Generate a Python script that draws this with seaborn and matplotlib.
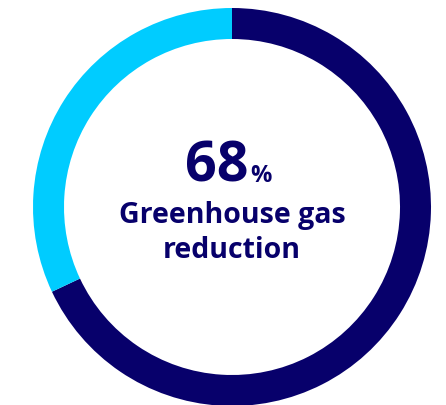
import matplotlib
matplotlib.use("Agg")
import matplotlib.pyplot as plt
import seaborn as sns

sns.set_theme(style="white")
plt.rcParams["font.family"] = ["Open Sans", "DejaVu Sans"]

# Share of the reduction target reached vs. remaining
labels = ["Reduction", "Remaining"]
values = [68, 32]
colors = ["#07006B", "#00CCFF"]
headline_value = "68"
headline_unit = "%"
caption_lines = ["Greenhouse gas", "reduction"]

W, H = 446, 406
fig = plt.figure(figsize=(W / 100, H / 100), dpi=100)
ax = fig.add_axes([0, 0, 1, 1])
ax.set_xlim(0, W)
ax.set_ylim(0, H)
ax.set_aspect("equal")
ax.axis("off")

cx, cy = 232, H - 208
outer_r = 199
ring_w = 31

ax.pie(values, colors=colors, startangle=90, counterclock=False,
       center=(cx, cy), radius=outer_r,
       wedgeprops=dict(width=ring_w, edgecolor="none", linewidth=0))
ax.set_xlim(0, W)
ax.set_ylim(0, H)

navy = colors[0]
ax.text(cx + 16, H - 182, headline_value, ha="right", va="baseline",
        fontsize=40, fontweight="bold", color=navy)
ax.text(cx + 18, H - 182, headline_unit, ha="left", va="baseline",
        fontsize=17, fontweight="bold", color=navy)
ax.text(cx, H - 223, caption_lines[0], ha="center", va="baseline",
        fontsize=20.5, fontweight="bold", color=navy)
ax.text(cx, H - 258, caption_lines[1], ha="center", va="baseline",
        fontsize=20.5, fontweight="bold", color=navy)

fig.savefig("out.png", dpi=100)
